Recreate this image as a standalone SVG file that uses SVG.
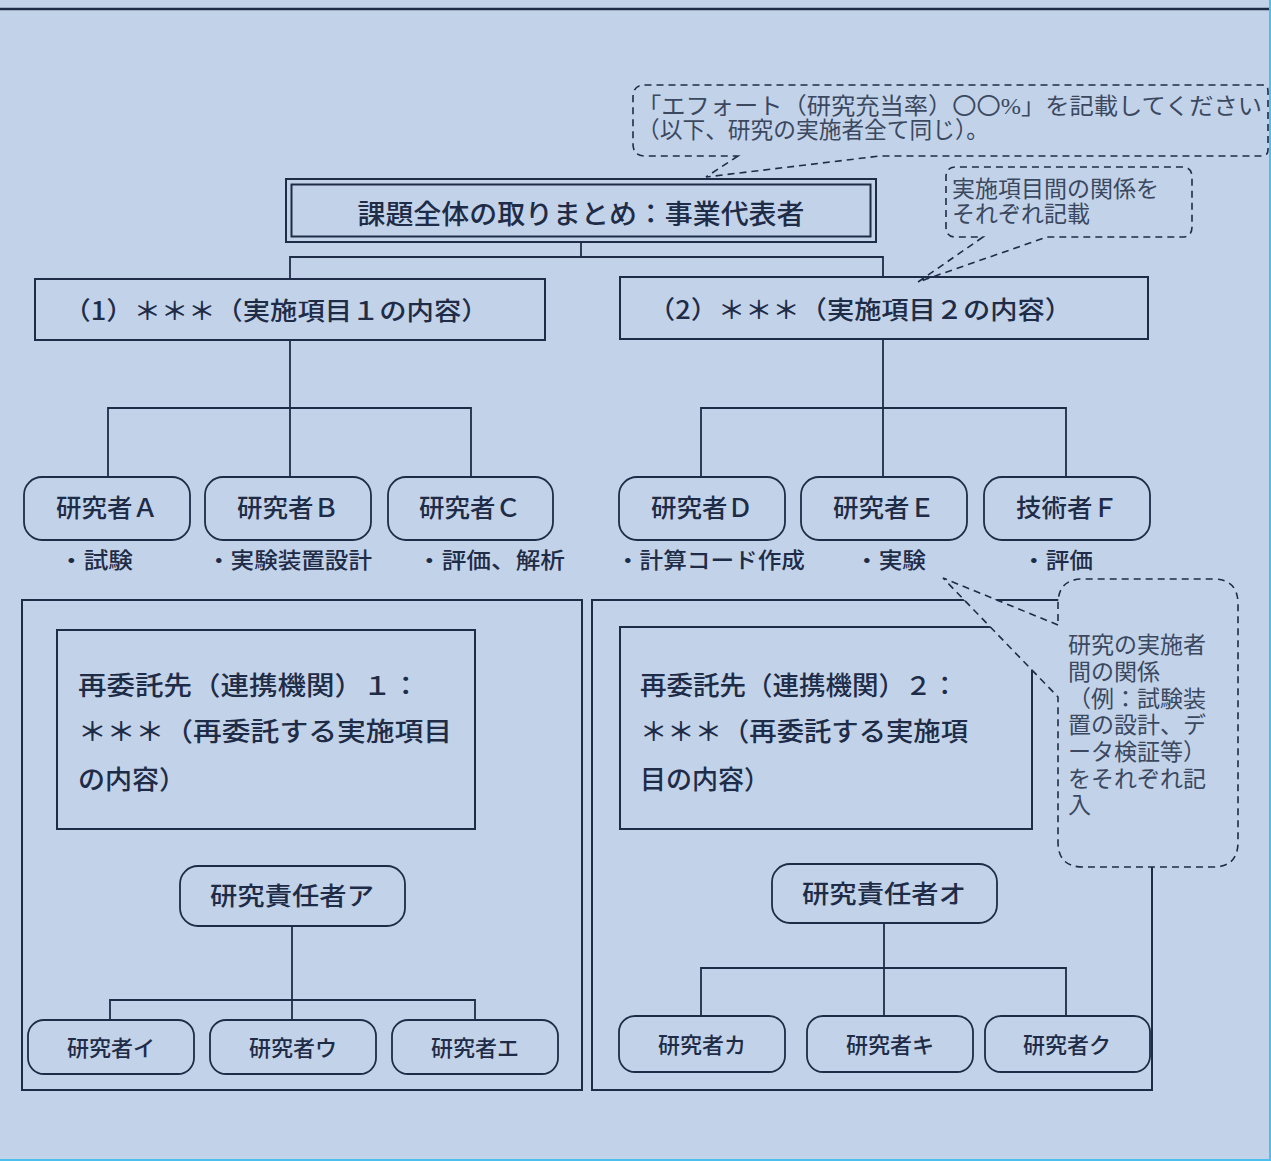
<svg xmlns="http://www.w3.org/2000/svg" width="1271" height="1161" viewBox="0 0 1271 1161">
<style>
.box{fill:none;stroke:#1F2C47;stroke-width:2}
.node{fill:none;stroke:#1F2C47;stroke-width:1.8}
.conn{fill:none;stroke:#1F2C47;stroke-width:1.8}
.dash{fill:#C2D3E9;stroke:#1F2C47;stroke-width:1.6;stroke-dasharray:7 5}
.t{font-family:"Noto Sans CJK JP","Noto Sans",sans-serif;fill:#1F2C47;font-weight:500}
.c{font-family:"Liberation Serif","Noto Sans CJK JP",serif;fill:#3B4860;font-size:23px}
.mid{text-anchor:middle}
</style>
<rect x="0" y="0" width="1271" height="1161" fill="#C2D3E9"/>
<line x1="0" y1="9" x2="1271" y2="9" stroke="#1F2C47" stroke-width="2.5"/>
<line x1="1270" y1="0" x2="1270" y2="1161" stroke="#4DBFEF" stroke-width="2"/>
<line x1="0" y1="1160" x2="1271" y2="1160" stroke="#4DBFEF" stroke-width="2"/>

<g id="connectors">
<polyline class="conn" points="581,243 581,257"/>
<polyline class="conn" points="290,279 290,257 883,257 883,277"/>
<polyline class="conn" points="290,340 290,477"/>
<polyline class="conn" points="108,477 108,408 471,408 471,477"/>
<polyline class="conn" points="883,339 883,477"/>
<polyline class="conn" points="701,477 701,408 1066,408 1066,477"/>
<polyline class="conn" points="292,926 292,1020"/>
<polyline class="conn" points="110,1020 110,1000 475,1000 475,1020"/>
<polyline class="conn" points="884,923 884,1016"/>
<polyline class="conn" points="701,1016 701,968 1066,968 1066,1016"/>
</g>

<g id="container-1"><rect class="box" x="22" y="600" width="560" height="490"/></g>
<g id="container-2"><rect class="box" x="592" y="600" width="560" height="490"/></g>

<g id="callout-effort">
<path class="dash" d="M 738,156 L 706,177 L 880,156 L 1262,156 Q 1268,156 1268,150 L 1268,91 Q 1268,85 1262,85 L 645,85 Q 633,85 633,97 L 633,144 Q 633,156 645,156 Z"/>
<text class="c" x="637" y="114" textLength="625" lengthAdjust="spacingAndGlyphs">「エフォート（研究充当率）〇〇%」を記載してください</text>
<text class="c" x="637" y="138" textLength="352" lengthAdjust="spacingAndGlyphs">（以下、研究の実施者全て同じ）。</text>
</g>

<g id="leader">
<rect class="box" x="286" y="179" width="590" height="63" stroke-width="3"/>
<rect class="box" x="291.5" y="184.5" width="579" height="52" stroke-width="3"/>
<text class="t mid" x="581" y="224" font-size="27" textLength="447" lengthAdjust="spacingAndGlyphs">課題全体の取りまとめ：事業代表者</text>
</g>

<g id="callout-relation">
<path class="dash" d="M 983,237 L 918,282 L 1047,237 L 1182,237 Q 1192,237 1192,227 L 1192,177 Q 1192,167 1182,167 L 956,167 Q 946,167 946,177 L 946,227 Q 946,237 956,237 Z"/>
<text class="c" x="952" y="197">実施項目間の関係を</text>
<text class="c" x="952" y="222">それぞれ記載</text>
</g>

<g id="item-1">
<rect class="box" x="35" y="279" width="510" height="61"/>
<text class="t mid" x="276" y="320" font-size="25" textLength="425" lengthAdjust="spacingAndGlyphs">（1）＊＊＊（実施項目１の内容）</text>
</g>
<g id="item-2">
<rect class="box" x="620" y="277" width="528" height="62"/>
<text class="t mid" x="860" y="319" font-size="25" textLength="424" lengthAdjust="spacingAndGlyphs">（2）＊＊＊（実施項目２の内容）</text>
</g>

<g id="researcher-A"><rect class="node" x="24" y="477" width="166" height="63" rx="18"/><text class="t mid" x="107" y="517" font-size="25" textLength="102" lengthAdjust="spacingAndGlyphs">研究者Ａ</text></g>
<g id="researcher-B"><rect class="node" x="205" y="477" width="166" height="63" rx="18"/><text class="t mid" x="288" y="517" font-size="25" textLength="102" lengthAdjust="spacingAndGlyphs">研究者Ｂ</text></g>
<g id="researcher-C"><rect class="node" x="388" y="477" width="165" height="63" rx="18"/><text class="t mid" x="470" y="517" font-size="25" textLength="102" lengthAdjust="spacingAndGlyphs">研究者Ｃ</text></g>
<g id="researcher-D"><rect class="node" x="619" y="477" width="166" height="63" rx="18"/><text class="t mid" x="702" y="517" font-size="25" textLength="102" lengthAdjust="spacingAndGlyphs">研究者Ｄ</text></g>
<g id="researcher-E"><rect class="node" x="801" y="477" width="166" height="63" rx="18"/><text class="t mid" x="884" y="517" font-size="25" textLength="102" lengthAdjust="spacingAndGlyphs">研究者Ｅ</text></g>
<g id="engineer-F"><rect class="node" x="984" y="477" width="166" height="63" rx="18"/><text class="t mid" x="1067" y="517" font-size="25" textLength="102" lengthAdjust="spacingAndGlyphs">技術者Ｆ</text></g>

<g id="tasks" class="t" font-size="22">
<text x="59" y="568" textLength="74" lengthAdjust="spacingAndGlyphs">・試験</text>
<text x="207" y="568" textLength="165" lengthAdjust="spacingAndGlyphs">・実験装置設計</text>
<text x="417" y="568" textLength="148" lengthAdjust="spacingAndGlyphs">・評価、解析</text>
<text x="616" y="568" textLength="189" lengthAdjust="spacingAndGlyphs">・計算コード作成</text>
<text x="855" y="568" textLength="71" lengthAdjust="spacingAndGlyphs">・実験</text>
<text x="1022" y="568" textLength="71" lengthAdjust="spacingAndGlyphs">・評価</text>
</g>

<g id="sub-1">
<rect class="box" x="57" y="630" width="418" height="199"/>
<text class="t" x="78" y="695" font-size="26" textLength="342" lengthAdjust="spacingAndGlyphs">再委託先（連携機関）１：</text>
<text class="t" x="78" y="741" font-size="26" textLength="374" lengthAdjust="spacingAndGlyphs">＊＊＊（再委託する実施項目</text>
<text class="t" x="78" y="789" font-size="26" textLength="108" lengthAdjust="spacingAndGlyphs">の内容）</text>
</g>
<g id="sub-2">
<rect class="box" x="620" y="627" width="412" height="202"/>
<text class="t" x="640" y="695" font-size="26" textLength="318" lengthAdjust="spacingAndGlyphs">再委託先（連携機関）２：</text>
<text class="t" x="640" y="741" font-size="26" textLength="328" lengthAdjust="spacingAndGlyphs">＊＊＊（再委託する実施項</text>
<text class="t" x="640" y="789" font-size="26" textLength="130" lengthAdjust="spacingAndGlyphs">目の内容）</text>
</g>

<g id="callout-researchers">
<path class="dash" d="M 1058,625 L 943,578 L 1058,697 L 1058,842 Q 1058,867 1083,867 L 1213,867 Q 1238,867 1238,842 L 1238,604 Q 1238,579 1213,579 L 1083,579 Q 1058,579 1058,604 Z"/>
<text class="c" x="1068" y="653">研究の実施者</text>
<text class="c" x="1068" y="680">間の関係</text>
<text class="c" x="1068" y="707">（例：試験装</text>
<text class="c" x="1068" y="733">置の設計、デ</text>
<text class="c" x="1068" y="760">ータ検証等）</text>
<text class="c" x="1068" y="787">をそれぞれ記</text>
<text class="c" x="1068" y="813">入</text>
</g>

<g id="lead-a"><rect class="node" x="180" y="866" width="225" height="60" rx="18"/><text class="t mid" x="292" y="905" font-size="25" textLength="164" lengthAdjust="spacingAndGlyphs">研究責任者ア</text></g>
<g id="lead-o"><rect class="node" x="772" y="864" width="225" height="59" rx="18"/><text class="t mid" x="884" y="903" font-size="25" textLength="164" lengthAdjust="spacingAndGlyphs">研究責任者オ</text></g>

<g id="researcher-i"><rect class="node" x="28" y="1020" width="166" height="54" rx="16"/><text class="t mid" x="111" y="1056" font-size="22">研究者イ</text></g>
<g id="researcher-u"><rect class="node" x="210" y="1020" width="166" height="54" rx="16"/><text class="t mid" x="293" y="1056" font-size="22">研究者ウ</text></g>
<g id="researcher-e"><rect class="node" x="392" y="1020" width="166" height="54" rx="16"/><text class="t mid" x="475" y="1056" font-size="22">研究者エ</text></g>
<g id="researcher-ka"><rect class="node" x="619" y="1016" width="166" height="56" rx="16"/><text class="t mid" x="702" y="1053" font-size="22">研究者カ</text></g>
<g id="researcher-ki"><rect class="node" x="807" y="1016" width="166" height="56" rx="16"/><text class="t mid" x="890" y="1053" font-size="22">研究者キ</text></g>
<g id="researcher-ku"><rect class="node" x="985" y="1016" width="165" height="56" rx="16"/><text class="t mid" x="1067" y="1053" font-size="22">研究者ク</text></g>
</svg>
